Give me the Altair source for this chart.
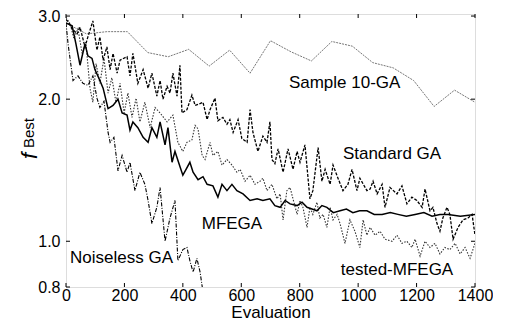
import altair as alt
import pandas as pd

# ---------------- data ----------------
sample_eval = [0, 70, 140, 210, 280, 350, 420, 490, 560, 630, 700, 770, 840, 910, 980, 1050, 1120, 1190, 1260, 1330, 1400]
sample_f = [2.90, 2.75, 2.78, 2.78, 2.51, 2.46, 2.55, 2.35, 2.54, 2.27, 2.66, 2.52, 2.41, 2.65, 2.59, 2.39, 2.33, 2.19, 1.93, 2.09, 1.97]

std_eval = [0, 7, 21, 38, 48, 65, 75, 92, 106, 116, 127, 140, 151, 161, 175, 185, 209, 219, 229, 246,
            264, 281, 294, 311, 322, 332, 346, 356, 366, 380, 390, 397, 414, 431, 442, 452, 469, 483, 493, 510,
            520, 537, 551, 561, 572, 589, 602, 620, 630, 640, 657, 674, 688, 698, 705, 715, 726, 743, 760, 777,
            791, 801, 818, 835, 845, 863, 876, 887, 904, 914, 931, 948, 965, 979, 996, 1006, 1030, 1041, 1051, 1065,
            1082, 1092, 1109, 1133, 1150, 1167, 1184, 1201, 1219, 1229, 1246, 1256, 1270, 1280, 1290, 1304, 1314, 1325, 1342, 1359,
            1376, 1390, 1400]
std_f = [2.95, 2.92, 2.82, 2.75, 2.84, 2.58, 2.71, 2.93, 2.54, 2.71, 2.42, 2.58, 2.31, 2.50, 2.27, 2.42, 2.46, 2.24, 2.50, 2.16,
         2.31, 2.11, 2.27, 2.03, 2.19, 2.00, 2.13, 2.06, 2.27, 2.03, 2.36, 1.87, 1.90, 2.04, 1.94, 1.95, 1.97, 1.81, 1.90, 2.01,
         1.80, 1.83, 1.77, 1.81, 1.70, 1.81, 1.65, 1.62, 1.90, 1.70, 1.55, 1.67, 1.62, 1.79, 1.49, 1.46, 1.57, 1.40, 1.57, 1.42,
         1.55, 1.47, 1.60, 1.23, 1.28, 1.58, 1.34, 1.42, 1.32, 1.45, 1.36, 1.28, 1.32, 1.42, 1.28, 1.36, 1.28, 1.29, 1.34, 1.26,
         1.32, 1.18, 1.30, 1.26, 1.31, 1.20, 1.24, 1.22, 1.18, 1.29, 1.16, 1.18, 1.09, 1.05, 1.12, 1.18, 1.14, 1.01, 1.07, 1.11,
         1.12, 1.14, 1.03]

mfega_eval = [0, 21, 34, 48, 65, 75, 89, 99, 116, 127, 144, 161, 178, 192, 209, 219, 229, 246, 264, 281,
              294, 311, 322, 339, 349, 363, 373, 390, 400, 411, 424, 435, 452, 469, 483, 503, 520, 534, 551, 568,
              585, 606, 630, 654, 674, 698, 715, 733, 750, 767, 791, 808, 825, 842, 859, 876, 893, 915, 938, 960,
              982, 1005, 1030, 1055, 1082, 1110, 1136, 1165, 1195, 1225, 1253, 1280, 1308, 1350, 1400]
mfega_f = [2.90, 2.86, 2.62, 2.36, 2.62, 2.47, 2.44, 2.31, 2.19, 2.11, 1.91, 1.94, 2.00, 1.87, 1.85, 1.72, 1.79, 1.74, 1.66, 1.62,
           1.74, 1.66, 1.79, 1.60, 1.74, 1.47, 1.55, 1.44, 1.38, 1.42, 1.47, 1.40, 1.35, 1.37, 1.32, 1.31, 1.24, 1.32, 1.28, 1.32,
           1.28, 1.26, 1.22, 1.23, 1.22, 1.23, 1.19, 1.18, 1.22, 1.20, 1.19, 1.21, 1.18, 1.17, 1.16, 1.19, 1.18, 1.15, 1.16, 1.17,
           1.15, 1.16, 1.16, 1.14, 1.14, 1.15, 1.14, 1.13, 1.14, 1.15, 1.13, 1.14, 1.14, 1.13, 1.14]

tested_eval = [0, 14, 27, 41, 55, 68, 82, 92, 103, 116, 130, 144, 157, 171, 185, 199, 212, 226, 240, 253,
               270, 288, 305, 322, 346, 366, 383, 400, 414, 431, 442, 452, 466, 476, 493, 503, 520, 534, 551, 568,
               585, 596, 613, 630, 647, 664, 674, 688, 705, 722, 733, 743, 756, 767, 777, 791, 801, 811, 825, 835,
               845, 859, 869, 880, 893, 904, 914, 928, 938, 955, 972, 989, 1006, 1017, 1030, 1041, 1058, 1075, 1092, 1116,
               1133, 1150, 1167, 1184, 1195, 1212, 1229, 1246, 1263, 1280, 1297, 1314, 1332, 1349, 1366, 1383, 1400]
tested_f = [2.98, 2.89, 2.69, 2.82, 2.50, 2.64, 2.11, 1.97, 2.38, 2.16, 2.44, 2.06, 2.22, 1.97, 2.16, 1.87, 2.06, 1.83, 2.01, 1.79,
            1.97, 1.74, 1.92, 1.87, 1.79, 1.85, 1.62, 1.55, 1.62, 1.64, 1.76, 1.73, 1.52, 1.49, 1.62, 1.52, 1.55, 1.45, 1.49, 1.45,
            1.40, 1.42, 1.34, 1.38, 1.32, 1.34, 1.36, 1.28, 1.32, 1.23, 1.26, 1.11, 1.28, 1.30, 1.23, 1.14, 1.22, 1.18, 1.07, 1.18,
            1.14, 1.21, 1.12, 1.14, 1.07, 1.18, 1.11, 1.14, 1.09, 0.99, 1.11, 1.05, 0.97, 1.11, 1.03, 1.07, 1.03, 1.05, 1.01, 1.00,
            1.03, 0.99, 1.00, 0.97, 1.01, 0.93, 1.00, 0.97, 0.99, 0.94, 0.97, 0.96, 0.99, 0.94, 0.97, 0.92, 0.99]

noiseless_eval = [0, 7, 24, 41, 58, 75, 92, 106, 116, 130, 144, 151, 164, 178, 192, 209, 219, 236, 253, 270,
                  281, 294, 311, 322, 339, 356, 373, 383, 400, 414, 424, 435, 448, 459, 469]
noiseless_f = [2.90, 2.62, 2.19, 2.24, 2.16, 2.14, 2.24, 2.01, 1.92, 1.98, 1.70, 1.62, 1.66, 1.41, 1.52, 1.40, 1.47, 1.28, 1.40, 1.32,
               1.22, 1.09, 1.18, 1.30, 1.00, 1.12, 1.22, 0.91, 0.96, 0.97, 0.91, 0.86, 0.92, 0.86, 0.78]

x_ticks = [0, 200, 400, 600, 800, 1000, 1200, 1400]
y_ticks = [0.8, 1.0, 2.0, 3.0]

labels = ["Sample 10-GA", "Standard GA", "MFEGA", "Noiseless GA", "tested-MFEGA"]
label_eval = [763, 1116, 568, 14, 1133]
label_f = [2.16, 1.53, 1.09, 0.92, 0.87]
label_align = ["left", "center", "center", "left", "center"]

# ---------------- chart ----------------
W, H = 409, 273
FONT = "Liberation Sans"

X = alt.X("e:Q", scale=alt.Scale(domain=[0, 1400], nice=False),
          axis=alt.Axis(values=x_ticks, format="d", title="Evaluation", labelFontSize=16, titleFontSize=17,
                        titleFontWeight="normal", ticks=False, domain=False, grid=False,
                        labelOverlap=False, labelFlush=False,
                        labelPadding=0, titlePadding=1, labelColor="black", titleColor="black",
                        labelFont=FONT, titleFont=FONT))
Y = alt.Y("f:Q", scale=alt.Scale(type="log", domain=[0.8, 3.03], nice=False),
          axis=alt.Axis(values=y_ticks, format=".1f", title=None, labelFontSize=16, ticks=False,
                        labelOverlap=False, labelFlush=False,
                        domain=False, grid=False, labelPadding=6, labelColor="black", labelFont=FONT))


def line(ev, fv, **style):
    df = pd.DataFrame({"e": ev, "f": fv})
    return alt.Chart(df).mark_line(clip=True, **style).encode(x=X, y=Y)


sample = line(sample_eval, sample_f, color="#777777", strokeWidth=1.0, strokeDash=[2, 1])
std = line(std_eval, std_f, color="black", strokeWidth=1.3, strokeDash=[3, 1.5])
tested = line(tested_eval, tested_f, color="#333333", strokeWidth=1.1, strokeDash=[1.5, 1.5])
noiseless = line(noiseless_eval, noiseless_f, color="black", strokeWidth=1.1, strokeDash=[4, 1.5, 1, 1.5])
mfega = line(mfega_eval, mfega_f, color="black", strokeWidth=1.5)

lab_df = pd.DataFrame({"e": label_eval, "f": label_f, "t": labels, "a": label_align})
lab_left = alt.Chart(lab_df[lab_df.a == "left"]).mark_text(
    align="left", baseline="middle", fontSize=17, font=FONT, color="black").encode(x=X, y=Y, text="t:N")
lab_center = alt.Chart(lab_df[lab_df.a == "center"]).mark_text(
    align="center", baseline="middle", fontSize=17, font=FONT, color="black").encode(x=X, y=Y, text="t:N")

xt = pd.DataFrame({"e": x_ticks})
yt = pd.DataFrame({"f": y_ticks})
tick_b = alt.Chart(xt).mark_rule(color="black", strokeWidth=1).encode(x=X, y=alt.value(H), y2=alt.value(H - 4))
tick_t = alt.Chart(xt).mark_rule(color="black", strokeWidth=1).encode(x=X, y=alt.value(0), y2=alt.value(4))
tick_l = alt.Chart(yt).mark_rule(color="black", strokeWidth=1).encode(y=Y, x=alt.value(0), x2=alt.value(4))
tick_r = alt.Chart(yt).mark_rule(color="black", strokeWidth=1).encode(y=Y, x=alt.value(W - 4), x2=alt.value(W))

ytitle_f = alt.Chart(pd.DataFrame({"t": ["f"]})).mark_text(
    angle=270, fontSize=22, fontStyle="italic", font=FONT, color="black", align="center", baseline="middle"
).encode(x=alt.value(-36), y=alt.value(142), text="t:N")
ytitle_b = alt.Chart(pd.DataFrame({"t": ["Best"]})).mark_text(
    angle=270, fontSize=15, font=FONT, color="black", align="center", baseline="middle"
).encode(x=alt.value(-37), y=alt.value(119), text="t:N")

chart = alt.layer(
    sample, tested, std, noiseless, mfega, lab_left, lab_center,
    tick_b, tick_t, tick_l, tick_r, ytitle_f, ytitle_b
).properties(
    width=W, height=H,
    autosize=alt.AutoSizeParams(type="none"),
    padding={"left": 58, "top": 6, "right": 18, "bottom": 40},
).configure_view(stroke="black", strokeWidth=1.5).configure(font=FONT, background="white")

chart.save("out.html", embed_options={"renderer": "svg", "actions": False})
